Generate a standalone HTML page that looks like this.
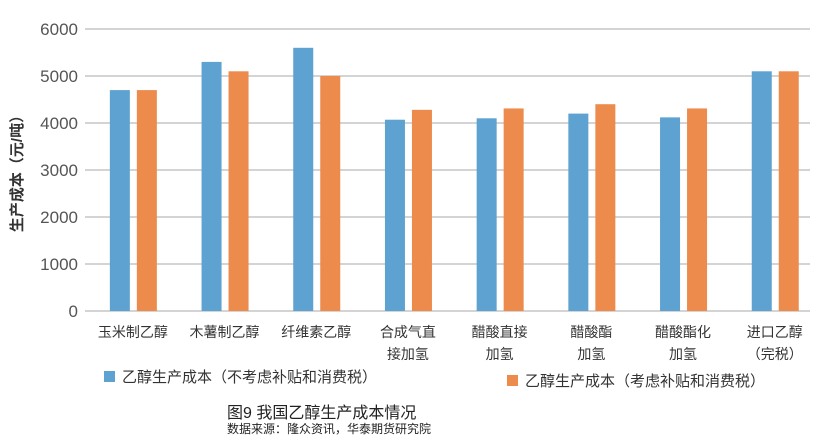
<!DOCTYPE html>
<html><head><meta charset="utf-8"><style>
body{margin:0;background:#fff;}
svg text{font-family:"Liberation Sans","Noto Sans CJK SC",sans-serif;}
</style></head><body>
<svg width="831" height="436" id="c">
<text transform="translate(22,170) rotate(-90)" text-anchor="middle" font-size="15" font-weight="bold" fill="#333">生产成本（元/吨）</text>
<g id="grid"></g><g id="bars"></g><g id="xl"></g>
<rect x="104" y="371" width="11" height="11" fill="#5da2d0"/>
<text x="122" y="382" font-size="15" fill="#333">乙醇生产成本（不考虑补贴和消费税）</text>
<rect x="507" y="375" width="11" height="11" fill="#ec8b4c"/>
<text x="525" y="386" font-size="15" fill="#333">乙醇生产成本（考虑补贴和消费税）</text>
<text x="227" y="418" font-size="16" fill="#222">图9 我国乙醇生产成本情况</text>
<text x="227" y="433" font-size="12" fill="#222">数据来源：隆众资讯，华泰期货研究院</text>
</svg>
<script>
const categories=[["玉米制乙醇"],["木薯制乙醇"],["纤维素乙醇"],["合成气直","接加氢"],["醋酸直接","加氢"],["醋酸酯","加氢"],["醋酸酯化","加氢"],["进口乙醇","（完税）"]];
const seriesBlue=[4700,5300,5600,4070,4100,4200,4120,5100];
const seriesOrange=[4700,5100,5000,4280,4310,4400,4310,5100];
const yTicks=[0,1000,2000,3000,4000,5000,6000];
const NS="http://www.w3.org/2000/svg";
const x0=87,gridEnd=810,y0=311,y1=29,yMax=6000,band=91.7;
const y=v=>y0-(v/yMax)*(y0-y1);
const bx=i=>x0+band*i+band/2;
function mk(t,a,p){const e=document.createElementNS(NS,t);for(const k in a)e.setAttribute(k,a[k]);p.appendChild(e);return e;}
const g=document.getElementById('grid'),b=document.getElementById('bars'),xl=document.getElementById('xl');
yTicks.forEach(v=>{
 const l=mk('line',{x1:85,x2:gridEnd,y1:y(v),y2:y(v),stroke:'#bbb','stroke-width':1.3},g);
 
 
 const t=mk('text',{x:78,y:y(v)+6,'text-anchor':'end','font-size':17,fill:'#555'},g);
 
 
 t.textContent=v;
});
categories.forEach((c,i)=>{
 const cx=bx(i);
 const r1=mk('rect',{x:cx-23,y:y(seriesBlue[i]),width:20,height:y0-y(seriesBlue[i]),fill:'#5da2d0'},b);
 
 
 const r2=mk('rect',{x:cx+4,y:y(seriesOrange[i]),width:20,height:y0-y(seriesOrange[i]),fill:'#ec8b4c'},b);
 
 
 c.forEach((s,j)=>{
  const t=mk('text',{x:cx,y:337+j*22,'text-anchor':'middle','font-size':14,fill:'#333'},xl);
  
  
  t.textContent=s;
 });
});
</script>
</body></html>
